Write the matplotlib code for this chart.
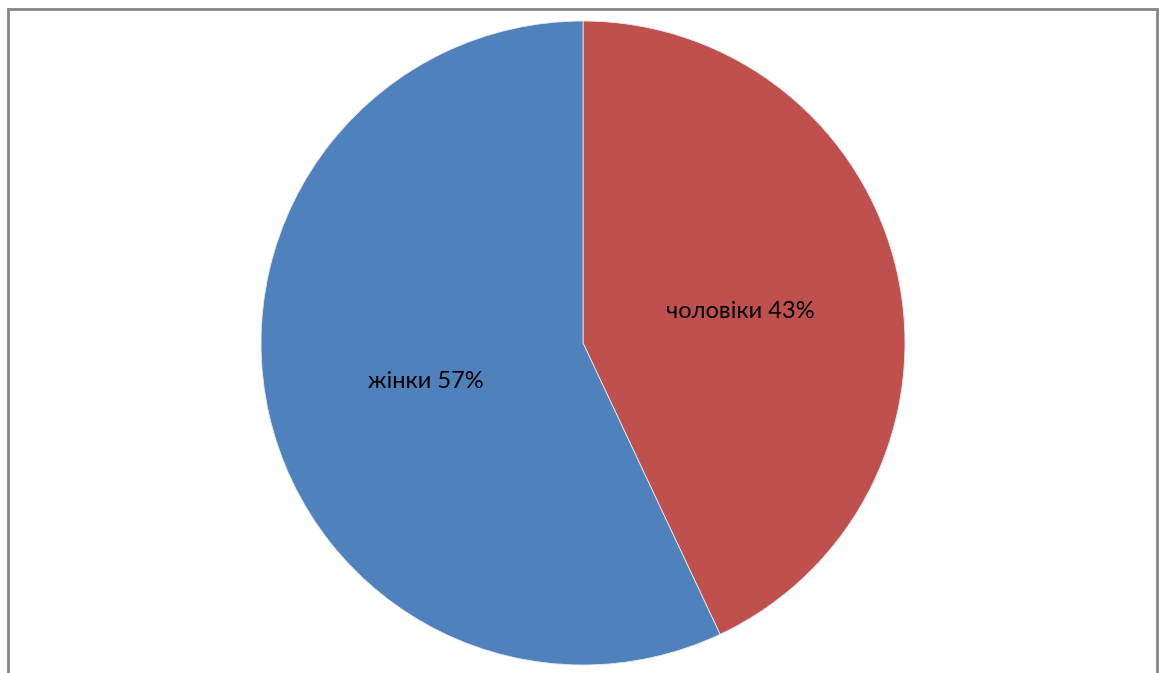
import matplotlib
matplotlib.use("Agg")
import matplotlib.pyplot as plt
from matplotlib.patches import Rectangle

labels = ["чоловіки", "жінки"]
values = [43, 57]
colors = ["#C0504D", "#4F81BD"]

plt.rcParams['font.family'] = ['Lato', 'DejaVu Sans']

fig = plt.figure(figsize=(11.59, 6.73), dpi=100)
fig.patch.set_facecolor("white")

W, H = 1159, 673
cx, cy, r = 583, 330, 322
ax = fig.add_axes([(cx - r) / W, (cy - r) / H, 2 * r / W, 2 * r / H])

total = sum(values)
texts_ = [f"{l} {round(v / total * 100)}%" for l, v in zip(labels, values)]

wedges, texts = ax.pie(values, colors=colors, startangle=90, counterclock=False,
                       labels=texts_, labeldistance=0.5,
                       wedgeprops=dict(edgecolor="#e8e8e8", linewidth=0.6),
                       textprops=dict(fontsize=17, color="black", ha="center", va="center"))
for t in texts:
    x, y = t.get_position()
    t.set_position((x, y - 0.01))
ax.set_xlim(-1, 1)
ax.set_ylim(-1, 1)
ax.set_aspect("equal")
ax.axis("off")

border = Rectangle((8 / W, -0.05), (1157 - 8) / W, (H - 9) / H + 0.05,
                   transform=fig.transFigure, fill=False, edgecolor="#858585",
                   linewidth=2, clip_on=False)
fig.add_artist(border)

fig.savefig("out.png", dpi=100, facecolor="white")
